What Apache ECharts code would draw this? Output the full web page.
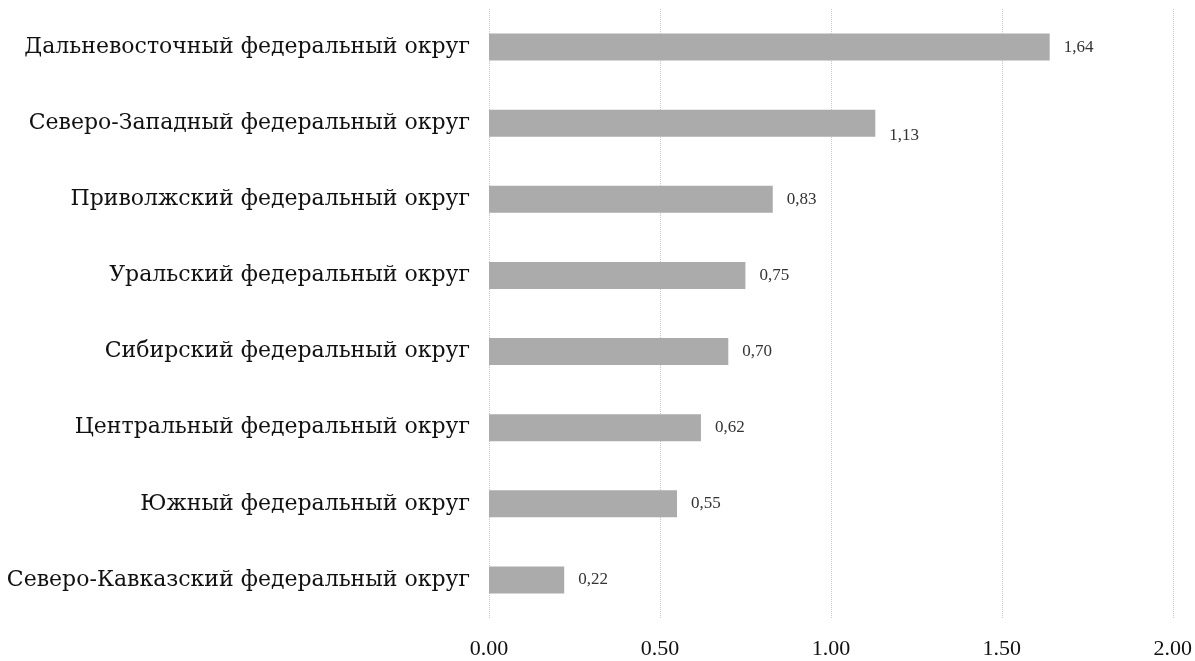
<!DOCTYPE html>
<html>
<head>
<meta charset="utf-8">
<script src="https://cdn.jsdelivr.net/npm/echarts@6/dist/echarts.min.js"></script>
<style>
html,body{margin:0;padding:0;background:#fff;}
#chart{width:1195px;height:661px;}
</style>
</head>
<body>
<div id="chart"></div>
<script>
// Data (top to bottom as in the picture)
const categories = [
  "Дальневосточный федеральный округ",
  "Северо-Западный федеральный округ",
  "Приволжский федеральный округ",
  "Уральский федеральный округ",
  "Сибирский федеральный округ",
  "Центральный федеральный округ",
  "Южный федеральный округ",
  "Северо-Кавказский федеральный округ"
];
const values = [1.64, 1.13, 0.83, 0.75, 0.70, 0.62, 0.55, 0.22];
const xTicks = [0, 0.5, 1, 1.5, 2];

const chart = echarts.init(document.getElementById('chart'), null, {renderer: 'canvas'});
const serif = '"Liberation Serif","DejaVu Serif",serif';
const wideSerif = '"DejaVu Serif","Liberation Serif",serif';

const option = {
  backgroundColor: '#ffffff',
  animation: false,
  grid: {left: 489, right: 21, top: 9, bottom: 43, containLabel: false},
  xAxis: {
    type: 'value',
    min: 0, max: 2, interval: 0.5,
    axisLine: {show: false},
    axisTick: {show: false},
    splitLine: {show: true, lineStyle: {color: '#c8c8c8', type: 'dotted', width: 1}},
    axisLabel: {
      margin: 20,
      fontFamily: serif, fontSize: 22, color: '#111',
      formatter: v => v.toFixed(2)
    }
  },
  yAxis: {
    type: 'category',
    inverse: true,
    data: categories,
    axisLine: {show: false},
    axisTick: {show: false},
    axisLabel: {margin: 19, fontFamily: wideSerif, fontSize: 22, color: '#111'}
  },
  series: [{
    type: 'bar',
    data: values.map(v => ({value: v})),
    barWidth: 27,
    itemStyle: {color: '#ababab'},
    label: {
      show: true, position: 'right', distance: 14,
      fontFamily: serif, fontSize: 17, color: '#333',
      formatter: p => p.value.toFixed(2).replace('.', ',')
    }
  }]
};
option.series[0].data[1].label = {offset: [0, 12]};
chart.setOption(option);
</script>
</body>
</html>
